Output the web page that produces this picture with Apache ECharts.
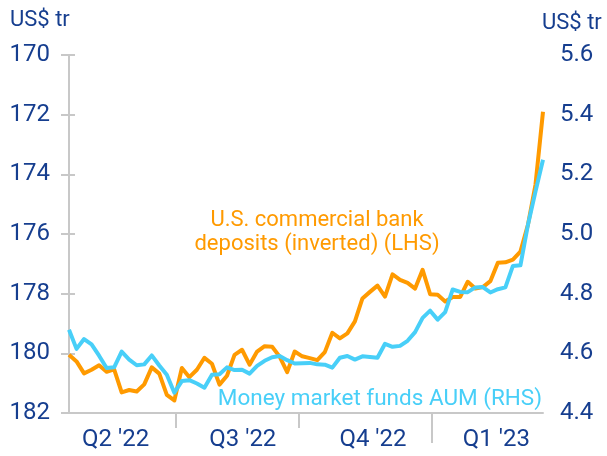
<!DOCTYPE html>
<html>
<head>
<meta charset="utf-8">
<script src="https://cdn.jsdelivr.net/npm/echarts@6/dist/echarts.min.js"></script>
<style>
  html, body { margin: 0; padding: 0; background: #fff; }
  #chart { width: 607px; height: 456px; }
</style>
</head>
<body>
<div id="chart"></div>
<script>
// US commercial bank deposits (LHS, inverted) vs money market funds AUM (RHS)
const deposits = [
  180.05, 180.27, 180.67, 180.55, 180.40, 180.62, 180.54, 181.31, 181.23, 181.28,
  181.04, 180.47, 180.68, 181.39, 181.58, 180.49, 180.80, 180.55, 180.15, 180.35,
  181.05, 180.75, 180.05, 179.88, 180.38, 179.94, 179.76, 179.78, 180.11, 180.63,
  179.94, 180.10, 180.16, 180.23, 179.96, 179.31, 179.50, 179.33, 178.93, 178.16,
  177.94, 177.73, 178.10, 177.35, 177.54, 177.64, 177.83, 177.20, 178.02, 178.04,
  178.26, 178.11, 178.11, 177.60, 177.83, 177.78, 177.58, 176.96, 176.95, 176.86,
  176.59, 175.69, 174.35, 171.90
]
const mmfAum = [
  4.679, 4.615, 4.648, 4.630, 4.592, 4.551, 4.553, 4.606, 4.579, 4.560,
  4.563, 4.593, 4.559, 4.528, 4.468, 4.507, 4.510, 4.499, 4.485, 4.528,
  4.530, 4.553, 4.544, 4.545, 4.532, 4.558, 4.575, 4.587, 4.591, 4.577,
  4.566, 4.567, 4.568, 4.563, 4.562, 4.552, 4.585, 4.591, 4.579, 4.590,
  4.588, 4.585, 4.632, 4.622, 4.625, 4.642, 4.671, 4.719, 4.743, 4.713,
  4.738, 4.814, 4.806, 4.805, 4.821, 4.822, 4.804, 4.815, 4.821, 4.893,
  4.895, 5.031, 5.142, 5.249
]
// quarter labels and where they sit (in observation index units)
const quarterLabels = ["Q2 '22", "Q3 '22", "Q4 '22", "Q1 '23"]
const quarterLabelPos = [6.2, 23.1, 40.4, 56.8]
// quarter boundaries; the last one is the year break (longer tick)
const quarterTicks = [14.14, 30.53]
const yearTicks = [48.17]

const navy = '#163e8f'
const orange = '#ff9a00'
const cyan = '#48cff8'
const axisGray = '#c8c8c8'
const font = 'Roboto, "Noto Sans", sans-serif'

let chart = echarts.init(document.getElementById('chart'), null, {renderer: 'canvas'})

let lastIdx = deposits.length - 1

let option = {
  animation: false,
  grid: {
    left: 69,
    right: 64,
    top: 55,
    bottom: 43,
    containLabel: false,
    outerBoundsMode: 'none'
  },
  xAxis: [
    {
      type: 'value',
      min: 0,
      max: lastIdx,
      position: 'bottom',
      splitLine: {show: false},
      axisLine: {lineStyle: {color: axisGray, width: 2}},
      axisTick: {
        show: true,
        customValues: quarterTicks,
        length: 15,
        lineStyle: {color: axisGray, width: 2}
      },
      axisLabel: {
        customValues: quarterLabelPos,
        formatter: v => {
          let k = quarterLabelPos.indexOf(v)
          return k >= 0 ? quarterLabels[k] : ''
        },
        color: navy,
        fontSize: 24,
        fontFamily: font,
        margin: 15
      }
    },
    {
      // only used for the longer year-break tick
      type: 'value',
      min: 0,
      max: lastIdx,
      position: 'bottom',
      splitLine: {show: false},
      axisLine: {show: false},
      axisLabel: {show: false},
      axisTick: {
        show: true,
        customValues: yearTicks,
        length: 30,
        lineStyle: {color: axisGray, width: 2}
      }
    }
  ],
  yAxis: [
    {
      type: 'value',
      inverse: true,
      min: 170,
      max: 182,
      interval: 2,
      position: 'left',
      splitLine: {show: false},
      axisLine: {show: true, lineStyle: {color: axisGray, width: 2}},
      axisTick: {show: true, length: 8, lineStyle: {color: axisGray, width: 2}},
      axisLabel: {color: navy, fontSize: 24, fontFamily: font, margin: 19}
    },
    {
      type: 'value',
      min: 4.4,
      max: 5.6,
      interval: 0.2,
      position: 'right',
      splitLine: {show: false},
      axisLine: {show: true, lineStyle: {color: axisGray, width: 2}},
      axisTick: {show: true, length: 6, lineStyle: {color: axisGray, width: 2}},
      axisLabel: {
        color: navy,
        fontSize: 24,
        fontFamily: font,
        margin: 17,
        formatter: v => v.toFixed(1)
      }
    }
  ],
  graphic: [
    {
      type: 'text', x: 10, y: 20,
      style: {text: 'US$ tr', fill: navy, font: '22px ' + font, verticalAlign: 'middle'}
    },
    {
      type: 'text', x: 542, y: 23,
      style: {text: 'US$ tr', fill: navy, font: '22px ' + font, verticalAlign: 'middle'}
    },
    {
      type: 'text', x: 317, y: 232,
      style: {
        text: 'U.S. commercial bank\ndeposits (inverted) (LHS)',
        fill: orange,
        font: '22px ' + font,
        lineHeight: 24,
        align: 'center',
        verticalAlign: 'middle'
      }
    },
    {
      type: 'text', x: 542, y: 399,
      style: {
        text: 'Money market funds AUM (RHS)',
        fill: cyan,
        font: '22.5px ' + font,
        align: 'right',
        verticalAlign: 'middle'
      }
    }
  ],
  series: [
    {
      name: 'Deposits',
      type: 'line',
      xAxisIndex: 0,
      yAxisIndex: 0,
      showSymbol: false,
      lineStyle: {color: orange, width: 4, join: 'round'},
      data: deposits.map((v, i) => [i, v])
    },
    {
      name: 'MMF AUM',
      type: 'line',
      xAxisIndex: 0,
      yAxisIndex: 1,
      showSymbol: false,
      lineStyle: {color: cyan, width: 4, join: 'round'},
      data: mmfAum.map((v, i) => [i, v])
    }
  ]
}

chart.setOption(option)
</script>
</body>
</html>
